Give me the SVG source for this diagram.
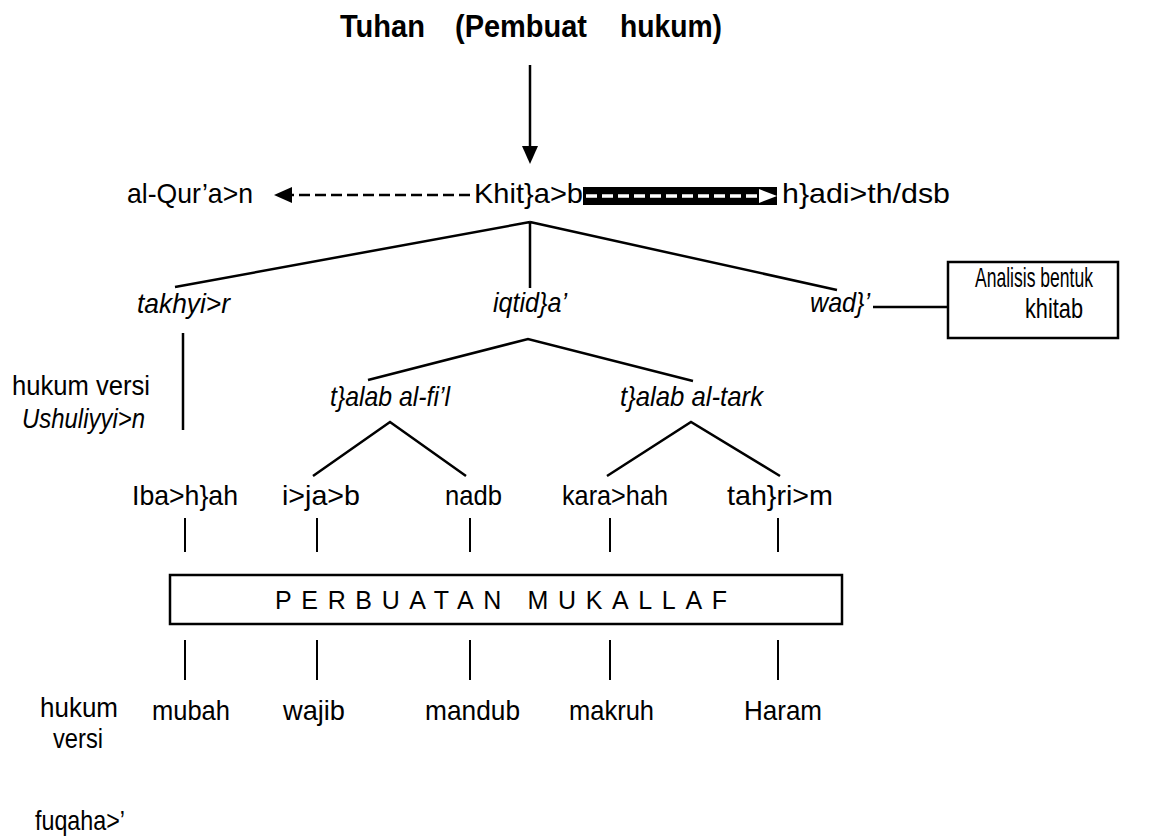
<svg xmlns="http://www.w3.org/2000/svg" width="1167" height="839" viewBox="0 0 1167 839">
<style>
.t{font-family:"Liberation Sans Narrow","Liberation Sans",Arial,sans-serif;font-size:28px;fill:#000}
.i{font-style:italic}
.b{font-family:"Liberation Sans",Arial,sans-serif;font-weight:bold;font-size:31px;fill:#000}
.ln{stroke:#000;stroke-width:2.5;fill:none}
.sl{stroke:#000;stroke-width:2;fill:none}
.dash{stroke-dasharray:11 5}
.box{fill:#fff;stroke:#000;stroke-width:2.5}
</style>
<defs>
<marker id="ah" viewBox="0 0 18 16" refX="0" refY="8" markerWidth="18" markerHeight="16" markerUnits="userSpaceOnUse" orient="auto">
<path d="M0,0 L18,8 L0,16 z" fill="#000"/>
</marker>
</defs>
<rect width="1167" height="839" fill="#fff"/>

<g id="connectors">
<line class="ln" x1="530" y1="65" x2="530" y2="146" stroke-width="3" marker-end="url(#ah)"/>
<line class="ln dash" x1="470" y1="195" x2="292" y2="195" stroke-width="3.5" marker-end="url(#ah)"/>
<g id="thick-arrow">
<rect x="583" y="187" width="194" height="18" fill="#000"/>
<line x1="586" y1="196" x2="760" y2="196" stroke="#fff" stroke-width="3.5" stroke-dasharray="11 5"/>
<path d="M759,189 L777,196 L759,203 z" fill="#fff"/>
</g>
<path class="ln" d="M530,222 L175,287 M530,222 L530,288 M530,222 L837,290"/>
<line class="ln" x1="873" y1="307" x2="948" y2="307"/>
<line class="ln" x1="183" y1="333" x2="183" y2="430"/>
<path class="ln" d="M368,380 L528,339 L693,381"/>
<path class="ln" d="M313,476 L390,422 L466,476"/>
<path class="ln" d="M607,476 L691,422 L780,476"/>
<path class="sl" d="M185,518 V552 M317,518 V552 M470,518 V552 M610,518 V552 M778,518 V552"/>
<path class="sl" d="M185,640 V680 M317,640 V680 M470,640 V680 M610,640 V680 M778,640 V680"/>
</g>

<g id="n-tuhan"><text class="b" y="37"><tspan x="340" textLength="85" lengthAdjust="spacingAndGlyphs">Tuhan</tspan><tspan x="455" textLength="132" lengthAdjust="spacingAndGlyphs">(Pembuat</tspan><tspan x="620" textLength="102" lengthAdjust="spacingAndGlyphs">hukum)</tspan></text></g>
<g id="n-quran"><text class="t" x="127" y="203" textLength="126" lengthAdjust="spacingAndGlyphs">al-Qur’a&gt;n</text></g>
<g id="n-khitab"><text class="t" x="474" y="203" textLength="109" lengthAdjust="spacingAndGlyphs">Khit}a&gt;b</text></g>
<g id="n-hadith"><text class="t" x="782" y="203" textLength="168" lengthAdjust="spacingAndGlyphs">h}adi&gt;th/dsb</text></g>
<g id="n-takhyir"><text class="t i" x="137" y="313" textLength="93" lengthAdjust="spacingAndGlyphs">takhyi&gt;r</text></g>
<g id="n-iqtida"><text class="t i" x="493" y="312" textLength="74" lengthAdjust="spacingAndGlyphs">iqtid}a’</text></g>
<g id="n-wad"><text class="t i" x="810" y="312" textLength="60" lengthAdjust="spacingAndGlyphs">wad}’</text></g>
<g id="n-analisis"><rect class="box" x="948" y="262" width="170" height="76"/>
<text class="t" x="975" y="287" textLength="118" lengthAdjust="spacingAndGlyphs">Analisis bentuk</text>
<text class="t" x="1025" y="318" textLength="58" lengthAdjust="spacingAndGlyphs">khitab</text></g>
<g id="n-ushul"><text class="t" x="12" y="395" textLength="138" lengthAdjust="spacingAndGlyphs">hukum versi</text>
<text class="t i" x="22" y="428" textLength="123" lengthAdjust="spacingAndGlyphs">Ushuliyyi&gt;n</text></g>
<g id="n-fil"><text class="t i" x="330" y="406" textLength="120" lengthAdjust="spacingAndGlyphs">t}alab al-fi’l</text></g>
<g id="n-tark"><text class="t i" x="620" y="406" textLength="143" lengthAdjust="spacingAndGlyphs">t}alab al-tark</text></g>
<g id="n-ibahah"><text class="t" x="132" y="505" textLength="106" lengthAdjust="spacingAndGlyphs">Iba&gt;h}ah</text></g>
<g id="n-ijab"><text class="t" x="282" y="505" textLength="78" lengthAdjust="spacingAndGlyphs">i&gt;ja&gt;b</text></g>
<g id="n-nadb"><text class="t" x="445" y="505" textLength="57" lengthAdjust="spacingAndGlyphs">nadb</text></g>
<g id="n-karahah"><text class="t" x="562" y="505" textLength="106" lengthAdjust="spacingAndGlyphs">kara&gt;hah</text></g>
<g id="n-tahrim"><text class="t" x="727" y="505" textLength="106" lengthAdjust="spacingAndGlyphs">tah}ri&gt;m</text></g>
<g id="n-perbuatan"><rect class="box" x="170" y="575" width="672" height="49"/>
<text class="t" x="275" y="609" textLength="452" lengthAdjust="spacing" style="font-family:'Liberation Sans',Arial,sans-serif;font-size:25px">PERBUATAN   MUKALLAF</text></g>
<g id="n-fuqaha"><text class="t" x="40" y="717" textLength="78" lengthAdjust="spacingAndGlyphs">hukum</text>
<text class="t" x="53" y="748" textLength="50" lengthAdjust="spacingAndGlyphs">versi</text>
<text class="t" x="35" y="830" textLength="90" lengthAdjust="spacingAndGlyphs">fuqaha&gt;’</text></g>
<g id="n-mubah"><text class="t" x="152" y="720" textLength="78" lengthAdjust="spacingAndGlyphs">mubah</text></g>
<g id="n-wajib"><text class="t" x="283" y="720" textLength="62" lengthAdjust="spacingAndGlyphs">wajib</text></g>
<g id="n-mandub"><text class="t" x="425" y="720" textLength="95" lengthAdjust="spacingAndGlyphs">mandub</text></g>
<g id="n-makruh"><text class="t" x="569" y="720" textLength="85" lengthAdjust="spacingAndGlyphs">makruh</text></g>
<g id="n-haram"><text class="t" x="744" y="720" textLength="78" lengthAdjust="spacingAndGlyphs">Haram</text></g>
</svg>
